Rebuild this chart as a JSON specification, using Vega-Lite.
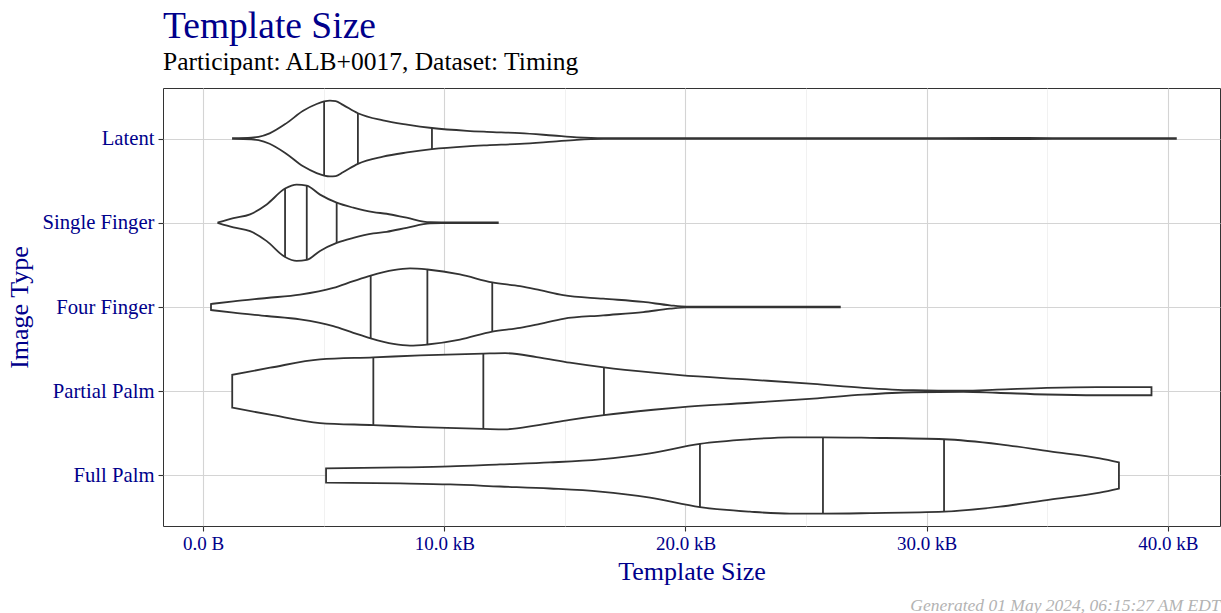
{
  "$schema": "https://vega.github.io/schema/vega-lite/v6.json",
  "width": 1057,
  "height": 438,
  "autosize": "none",
  "padding": {"left": 163, "top": 88, "right": 1, "bottom": 87},
  "background": "white",
  "config": {
    "view": {"stroke": "#333333", "strokeWidth": 1},
    "font": "Liberation Serif",
    "axisY": {
      "domain": false,
      "grid": true,
      "gridColor": "#d4d4d4",
      "gridWidth": 1.1,
      "ticks": true,
      "tickColor": "#333333",
      "tickSize": 5,
      "tickWidth": 1.1,
      "labelFont": "Liberation Serif",
      "labelFontSize": 20.7,
      "labelColor": "#00008B",
      "labelPadding": 4,
      "titleFont": "Liberation Serif",
      "titleFontSize": 26,
      "titleFontWeight": "normal",
      "titleColor": "#00008B",
      "titlePadding": 9
    }
  },
  "title": {
    "text": "Template Size",
    "subtitle": "Participant: ALB+0017, Dataset: Timing",
    "anchor": "start",
    "frame": "group",
    "font": "Liberation Serif",
    "fontSize": 37.5,
    "fontWeight": "normal",
    "color": "#00008B",
    "subtitleFont": "Liberation Serif",
    "subtitleFontSize": 25.5,
    "subtitleColor": "#000000",
    "subtitlePadding": 4,
    "offset": 13
  },
  "datasets": {
    "violin": [
      {"type": "Latent", "x": 1.24, "w": 0.004},
      {"type": "Latent", "x": 2.0, "w": 0.01},
      {"type": "Latent", "x": 2.3, "w": 0.02},
      {"type": "Latent", "x": 2.76, "w": 0.062},
      {"type": "Latent", "x": 3.45, "w": 0.18},
      {"type": "Latent", "x": 4.15, "w": 0.33},
      {"type": "Latent", "x": 4.71, "w": 0.41},
      {"type": "Latent", "x": 5.02, "w": 0.44},
      {"type": "Latent", "x": 5.26, "w": 0.45},
      {"type": "Latent", "x": 5.5, "w": 0.445},
      {"type": "Latent", "x": 5.8, "w": 0.4},
      {"type": "Latent", "x": 6.42, "w": 0.3},
      {"type": "Latent", "x": 7.46, "w": 0.215},
      {"type": "Latent", "x": 8.46, "w": 0.165},
      {"type": "Latent", "x": 9.49, "w": 0.125},
      {"type": "Latent", "x": 10.94, "w": 0.092},
      {"type": "Latent", "x": 11.77, "w": 0.08},
      {"type": "Latent", "x": 13.14, "w": 0.064},
      {"type": "Latent", "x": 14.51, "w": 0.036},
      {"type": "Latent", "x": 15.5, "w": 0.015},
      {"type": "Latent", "x": 16.6, "w": 0.005},
      {"type": "Latent", "x": 20.0, "w": 0.004},
      {"type": "Latent", "x": 25.0, "w": 0.004},
      {"type": "Latent", "x": 30.5, "w": 0.005},
      {"type": "Latent", "x": 33.0, "w": 0.008},
      {"type": "Latent", "x": 35.2, "w": 0.005},
      {"type": "Latent", "x": 38.0, "w": 0.004},
      {"type": "Latent", "x": 40.33, "w": 0.004},
      {"type": "Single Finger", "x": 0.63, "w": 0.004},
      {"type": "Single Finger", "x": 1.26, "w": 0.055},
      {"type": "Single Finger", "x": 1.95, "w": 0.1},
      {"type": "Single Finger", "x": 2.64, "w": 0.218},
      {"type": "Single Finger", "x": 3.4, "w": 0.406},
      {"type": "Single Finger", "x": 3.88, "w": 0.453},
      {"type": "Single Finger", "x": 4.3, "w": 0.44},
      {"type": "Single Finger", "x": 4.85, "w": 0.334},
      {"type": "Single Finger", "x": 5.54, "w": 0.239},
      {"type": "Single Finger", "x": 6.23, "w": 0.179},
      {"type": "Single Finger", "x": 7.06, "w": 0.126},
      {"type": "Single Finger", "x": 7.61, "w": 0.107},
      {"type": "Single Finger", "x": 8.44, "w": 0.06},
      {"type": "Single Finger", "x": 9.41, "w": 0.006},
      {"type": "Single Finger", "x": 10.65, "w": 0.004},
      {"type": "Single Finger", "x": 12.22, "w": 0.004},
      {"type": "Four Finger", "x": 0.33, "w": 0.036},
      {"type": "Four Finger", "x": 1.26, "w": 0.068},
      {"type": "Four Finger", "x": 2.64, "w": 0.107},
      {"type": "Four Finger", "x": 4.02, "w": 0.147},
      {"type": "Four Finger", "x": 5.4, "w": 0.227},
      {"type": "Four Finger", "x": 6.23, "w": 0.307},
      {"type": "Four Finger", "x": 6.95, "w": 0.373},
      {"type": "Four Finger", "x": 7.89, "w": 0.438},
      {"type": "Four Finger", "x": 8.58, "w": 0.458},
      {"type": "Four Finger", "x": 9.3, "w": 0.445},
      {"type": "Four Finger", "x": 10.65, "w": 0.387},
      {"type": "Four Finger", "x": 11.99, "w": 0.291},
      {"type": "Four Finger", "x": 13.14, "w": 0.247},
      {"type": "Four Finger", "x": 13.97, "w": 0.199},
      {"type": "Four Finger", "x": 14.93, "w": 0.14},
      {"type": "Four Finger", "x": 16.59, "w": 0.099},
      {"type": "Four Finger", "x": 18.25, "w": 0.06},
      {"type": "Four Finger", "x": 19.36, "w": 0.02},
      {"type": "Four Finger", "x": 20.05, "w": 0.005},
      {"type": "Four Finger", "x": 23.09, "w": 0.004},
      {"type": "Four Finger", "x": 26.4, "w": 0.004},
      {"type": "Partial Palm", "x": 1.21, "w": 0.195},
      {"type": "Partial Palm", "x": 2.78, "w": 0.279},
      {"type": "Partial Palm", "x": 4.85, "w": 0.378},
      {"type": "Partial Palm", "x": 7.06, "w": 0.402},
      {"type": "Partial Palm", "x": 9.0, "w": 0.426},
      {"type": "Partial Palm", "x": 11.62, "w": 0.447},
      {"type": "Partial Palm", "x": 12.52, "w": 0.452},
      {"type": "Partial Palm", "x": 13.83, "w": 0.406},
      {"type": "Partial Palm", "x": 15.21, "w": 0.339},
      {"type": "Partial Palm", "x": 16.62, "w": 0.283},
      {"type": "Partial Palm", "x": 18.67, "w": 0.22},
      {"type": "Partial Palm", "x": 19.77, "w": 0.191},
      {"type": "Partial Palm", "x": 22.54, "w": 0.14},
      {"type": "Partial Palm", "x": 25.3, "w": 0.088},
      {"type": "Partial Palm", "x": 27.37, "w": 0.041},
      {"type": "Partial Palm", "x": 29.44, "w": 0.012},
      {"type": "Partial Palm", "x": 31.52, "w": 0.006},
      {"type": "Partial Palm", "x": 32.9, "w": 0.018},
      {"type": "Partial Palm", "x": 34.97, "w": 0.039},
      {"type": "Partial Palm", "x": 37.05, "w": 0.048},
      {"type": "Partial Palm", "x": 39.32, "w": 0.048},
      {"type": "Full Palm", "x": 5.1, "w": 0.084},
      {"type": "Full Palm", "x": 8.17, "w": 0.095},
      {"type": "Full Palm", "x": 10.24, "w": 0.107},
      {"type": "Full Palm", "x": 12.31, "w": 0.131},
      {"type": "Full Palm", "x": 14.38, "w": 0.155},
      {"type": "Full Palm", "x": 16.46, "w": 0.191},
      {"type": "Full Palm", "x": 18.53, "w": 0.263},
      {"type": "Full Palm", "x": 20.6, "w": 0.376},
      {"type": "Full Palm", "x": 22.67, "w": 0.43},
      {"type": "Full Palm", "x": 24.33, "w": 0.453},
      {"type": "Full Palm", "x": 25.7, "w": 0.453},
      {"type": "Full Palm", "x": 27.65, "w": 0.447},
      {"type": "Full Palm", "x": 30.72, "w": 0.43},
      {"type": "Full Palm", "x": 33.04, "w": 0.37},
      {"type": "Full Palm", "x": 35.11, "w": 0.286},
      {"type": "Full Palm", "x": 37.18, "w": 0.203},
      {"type": "Full Palm", "x": 37.97, "w": 0.155}
    ],
    "quart": [
      {"type": "Latent", "q": 5.02, "w": 0.445},
      {"type": "Latent", "q": 6.42, "w": 0.3},
      {"type": "Latent", "q": 9.49, "w": 0.125},
      {"type": "Single Finger", "q": 3.4, "w": 0.406},
      {"type": "Single Finger", "q": 4.3, "w": 0.44},
      {"type": "Single Finger", "q": 5.54, "w": 0.239},
      {"type": "Four Finger", "q": 6.95, "w": 0.373},
      {"type": "Four Finger", "q": 9.3, "w": 0.445},
      {"type": "Four Finger", "q": 11.99, "w": 0.291},
      {"type": "Partial Palm", "q": 7.06, "w": 0.402},
      {"type": "Partial Palm", "q": 11.62, "w": 0.447},
      {"type": "Partial Palm", "q": 16.62, "w": 0.283},
      {"type": "Full Palm", "q": 20.6, "w": 0.376},
      {"type": "Full Palm", "q": 25.7, "w": 0.453},
      {"type": "Full Palm", "q": 30.72, "w": 0.43}
    ]
  },
  "resolve": {"axis": {"x": "independent"}},
  "layer": [
    {
      "data": {"name": "violin"},
      "transform": [
        {"calculate": "indexof(['Full Palm','Partial Palm','Four Finger','Single Finger','Latent'], datum.type) + 1", "as": "pos"},
        {"calculate": "datum.pos - datum.w", "as": "lo"},
        {"calculate": "datum.pos + datum.w", "as": "hi"}
      ],
      "mark": {"type": "area", "orient": "vertical", "interpolate": "monotone", "fill": "white", "stroke": "#333333", "strokeWidth": 1.8},
      "encoding": {
        "x": {
          "field": "x", "type": "quantitative",
          "scale": {"domain": [-1.66, 42.16], "nice": false, "zero": false},
          "axis": {
            "orient": "bottom",
            "title": "Template Size",
            "values": [0, 5, 10, 15, 20, 25, 30, 35, 40],
            "labelExpr": "datum.value % 10 != 0 ? '' : (datum.value == 0 ? '0.0 B' : format(datum.value, '.1f') + ' kB')",
            "domain": false,
            "grid": true,
            "gridColor": {"condition": {"test": "datum.value % 10 == 0", "value": "#d4d4d4"}, "value": "#ebebeb"},
            "gridWidth": {"condition": {"test": "datum.value % 10 == 0", "value": 1.1}, "value": 0.7},
            "ticks": true,
            "tickColor": "#333333",
            "tickSize": 5,
            "tickWidth": 1.1,
            "tickOpacity": {"condition": {"test": "datum.value % 10 == 0", "value": 1}, "value": 0},
            "labelFont": "Liberation Serif",
            "labelFontSize": 19,
            "labelColor": "#00008B",
            "labelPadding": 3,
            "titleFont": "Liberation Serif",
            "titleFontSize": 26,
            "titleFontWeight": "normal",
            "titleColor": "#00008B",
            "titlePadding": 5
          }
        },
        "y": {
          "field": "lo", "type": "quantitative",
          "scale": {"domain": [0.4, 5.6], "nice": false, "zero": false},
          "axis": {
            "title": "Image Type",
            "values": [1, 2, 3, 4, 5],
            "labelExpr": "datum.value == 1 ? 'Full Palm' : datum.value == 2 ? 'Partial Palm' : datum.value == 3 ? 'Four Finger' : datum.value == 4 ? 'Single Finger' : 'Latent'"
          }
        },
        "y2": {"field": "hi"},
        "detail": {"field": "type"}
      }
    },
    {
      "data": {"name": "quart"},
      "transform": [
        {"calculate": "indexof(['Full Palm','Partial Palm','Four Finger','Single Finger','Latent'], datum.type) + 1", "as": "pos"},
        {"calculate": "datum.pos - datum.w", "as": "lo"},
        {"calculate": "datum.pos + datum.w", "as": "hi"}
      ],
      "mark": {"type": "rule", "stroke": "#333333", "strokeWidth": 1.8},
      "encoding": {
        "x": {
          "field": "q", "type": "quantitative",
          "axis": {
            "orient": "bottom",
            "title": "Generated 01 May 2024, 06:15:27 AM EDT",
            "titleAnchor": "end",
            "titleFont": "Liberation Serif",
            "titleFontStyle": "italic",
            "titleFontWeight": "normal",
            "titleFontSize": 17.5,
            "titleColor": "#b3b3b3",
            "titlePadding": 0,
            "offset": 70,
            "domain": false,
            "ticks": false,
            "labels": false,
            "grid": false
          }
        },
        "y": {
          "field": "lo", "type": "quantitative",
          "axis": {
            "title": "Image Type",
            "values": [1, 2, 3, 4, 5],
            "labelExpr": "datum.value == 1 ? 'Full Palm' : datum.value == 2 ? 'Partial Palm' : datum.value == 3 ? 'Four Finger' : datum.value == 4 ? 'Single Finger' : 'Latent'"
          }
        },
        "y2": {"field": "hi"}
      }
    }
  ]
}
